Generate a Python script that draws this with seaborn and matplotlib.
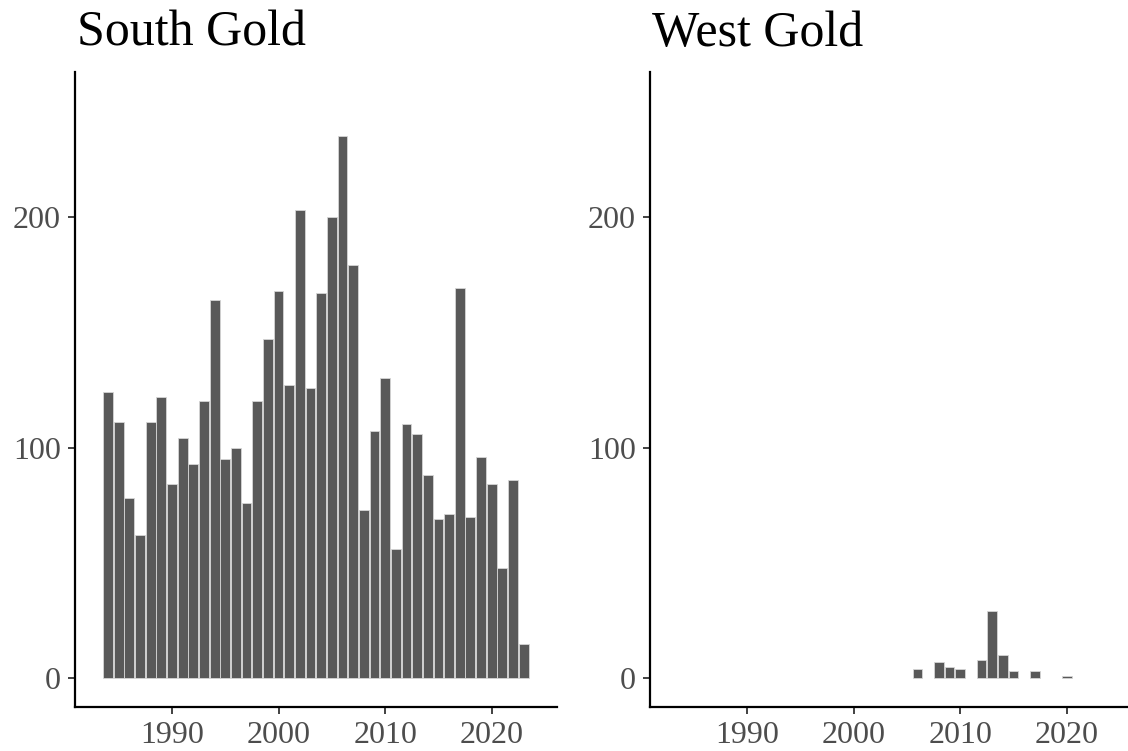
import matplotlib
matplotlib.use("Agg")
import matplotlib.pyplot as plt
import seaborn as sns

# Yearly counts, South Gold
south_years = list(range(1984, 2024))
south_counts = [124, 111, 78, 62, 111, 122, 84, 104, 93, 120,
                164, 95, 100, 76, 120, 147, 168, 127, 203, 126,
                167, 200, 235, 179, 73, 107, 130, 56, 110, 106,
                88, 69, 71, 169, 70, 96, 84, 48, 86, 15]

# Yearly counts, West Gold
west_years = [2006, 2008, 2009, 2010, 2012, 2013, 2014, 2015, 2017, 2020]
west_counts = [4, 7, 5, 4, 8, 29, 10, 3, 3, 1]

panel_titles = ["South Gold", "West Gold"]
x_ticks = [1990, 2000, 2010, 2020]
y_ticks = [0, 100, 200]

sns.set_style("ticks")
plt.rcParams["font.family"] = ["Liberation Serif", "DejaVu Serif"]

W, H = 1128, 751
fig = plt.figure(figsize=(W / 100, H / 100), dpi=100)

ax_w = 481.7 / W
ax_b = 1 - 706.7 / H
ax_h = (706.7 - 72) / H
axes = [fig.add_axes([75 / W, ax_b, ax_w, ax_h]),
        fig.add_axes([650 / W, ax_b, ax_w, ax_h])]

panels = [(south_years, south_counts), (west_years, west_counts)]

for ax, title, (yrs, vals) in zip(axes, panel_titles, panels):
    sns.barplot(x=yrs, y=vals, native_scale=True, color="#595959",
                saturation=1, width=0.92, edgecolor="#d6d6d6",
                linewidth=0.6, errorbar=None, ax=ax)
    ax.set_xlim(1980.9, 2026.1)
    ax.set_ylim(-12.3, 262.7)
    ax.set_xticks(x_ticks)
    ax.set_xticklabels([str(t) for t in x_ticks])
    ax.set_yticks(y_ticks)
    ax.set_yticklabels([str(t) for t in y_ticks])
    ax.set_xlabel("")
    ax.set_ylabel("")
    for side in ("top", "right"):
        ax.spines[side].set_visible(False)
    for side in ("left", "bottom"):
        ax.spines[side].set_linewidth(1.6)
        ax.spines[side].set_color("black")
    ax.tick_params(axis="both", labelsize=23, labelcolor="#4d4d4d",
                   color="#333333", length=5, width=1.3, pad=5)
    pos = ax.get_position()
    fig.text(pos.x0 + 2 / W, 1 - 46 / H, title, fontsize=36,
             color="black", ha="left", va="baseline")

fig.savefig("out.png", dpi=100, facecolor="white")
